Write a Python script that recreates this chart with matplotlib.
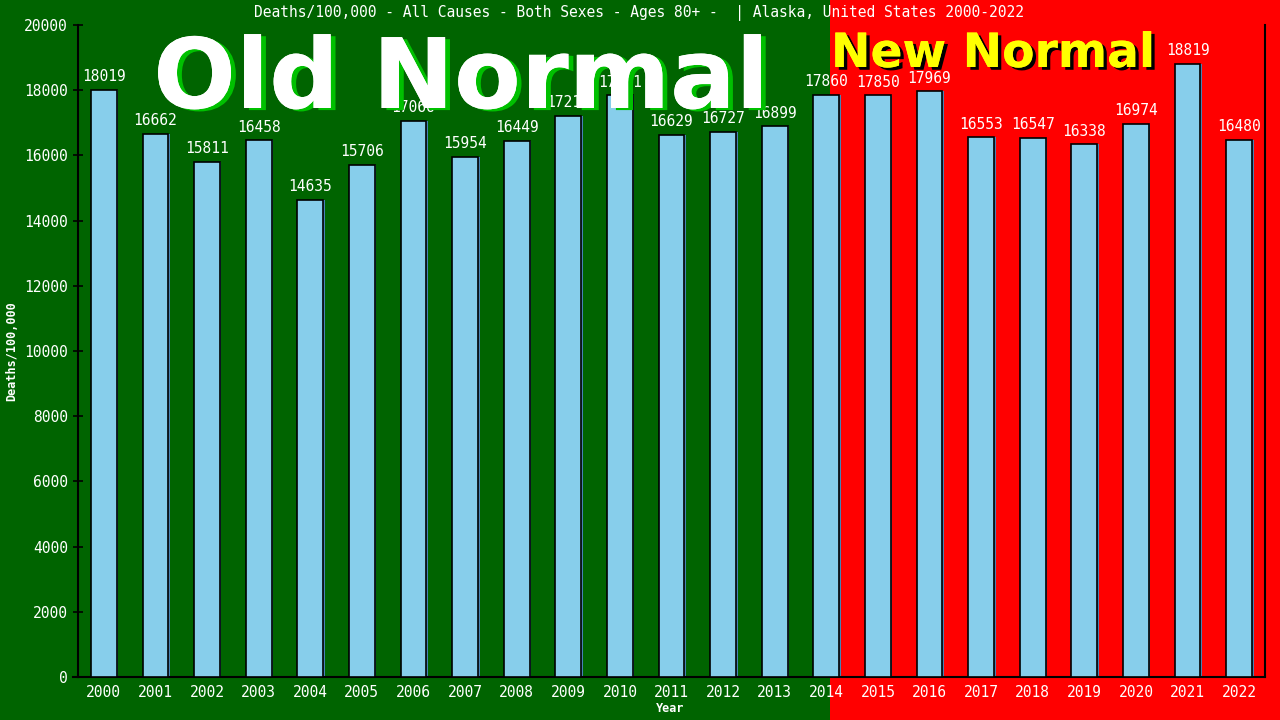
import matplotlib
matplotlib.use("Agg")
import matplotlib.pyplot as plt
import matplotlib.patheffects as pe
from matplotlib.patches import Rectangle

years = [str(y) for y in range(2000, 2023)]
deaths = [18019, 16662, 15811, 16458, 14635, 15706, 17066, 15954, 16449, 17213,
          17851, 16629, 16727, 16899, 17860, 17850, 17969, 16553, 16547, 16338,
          16974, 18819, 16480]
yticks = list(range(0, 20001, 2000))

title = "Deaths/100,000 - All Causes - Both Sexes - Ages 80+ -  | Alaska, United States 2000-2022"

W, H = 1280, 720
mono = "DejaVu Sans Mono"

fig = plt.figure(figsize=(12.8, 7.2), dpi=100)

# split background: green (old) / red (new)
split = 830 / W
fig.patches.append(Rectangle((0, 0), split, 1, transform=fig.transFigure,
                             facecolor="#006400", edgecolor="none", zorder=-10))
fig.patches.append(Rectangle((split, 0), 1 - split, 1, transform=fig.transFigure,
                             facecolor="#ff0000", edgecolor="none", zorder=-10))

ax = fig.add_axes([78 / W, 43 / H, (1265 - 78) / W, (677 - 25) / H])
ax.set_facecolor("none")

x = list(range(len(years)))
# thin shadow on the right of each bar
ax.bar([i + 0.03 for i in x], deaths, width=0.5, color="#4682b4", edgecolor="none", zorder=2)
ax.bar(x, deaths, width=0.5, color="#87ceeb", edgecolor="black", linewidth=1.2, zorder=3)

for i, v in enumerate(deaths):
    ax.annotate(str(v), (i, v), xytext=(0, 4), textcoords="offset points",
                ha="center", va="bottom", color="white", fontsize=10.5,
                family=mono, zorder=4)

ax.set_xlim(-0.5, len(years) - 0.5)
ax.set_ylim(0, 20000)
ax.set_yticks(yticks)
ax.set_yticklabels([str(t) for t in yticks])
ax.set_xticks(x)
ax.set_xticklabels(years)

for lab in ax.get_xticklabels() + ax.get_yticklabels():
    lab.set_family(mono)
    lab.set_color("white")
    lab.set_fontsize(10.5)

ax.tick_params(axis="y", direction="inout", length=6.5, width=1.2, color="black", pad=4)
ax.tick_params(axis="x", length=0, pad=6)

for s in ["left", "bottom", "right"]:
    ax.spines[s].set_color("black")
    ax.spines[s].set_linewidth(1.5)
ax.spines["top"].set_visible(False)
# x axis line runs a little past the y axis on the left
ax.plot([-0.6, -0.5], [0, 0], color="black", lw=1.5, clip_on=False, zorder=5)

fig.text(639 / W, 1 - 13 / H, title, ha="center", va="center", color="white",
         fontsize=10.5, family=mono)
fig.text(12 / W, 1 - 351 / H, "Deaths/100,000", rotation=90, ha="center", va="center",
         color="white", fontsize=8.5, family=mono, weight="bold")
fig.text(670 / W, 1 - 708 / H, "Year", ha="center", va="center", color="white",
         fontsize=8.5, family=mono, weight="bold")

fig.text(461 / W, 1 - 108 / H, "Old Normal", ha="center", va="baseline",
         color="white", fontsize=70, weight="bold", family="DejaVu Sans", zorder=5,
         path_effects=[pe.withSimplePatchShadow(offset=(3.5, -1.5), shadow_rgbFace="#00c000",
                                                alpha=1.0), pe.Normal()])
fig.text(831 / W, 1 - 67 / H, "New Normal", ha="left", va="baseline",
         color="#ffff00", fontsize=34, weight="bold", family="DejaVu Sans", zorder=5,
         path_effects=[pe.withSimplePatchShadow(offset=(2.5, -2), shadow_rgbFace="black",
                                                alpha=1.0), pe.Normal()])

fig.savefig("out.png", dpi=100)
